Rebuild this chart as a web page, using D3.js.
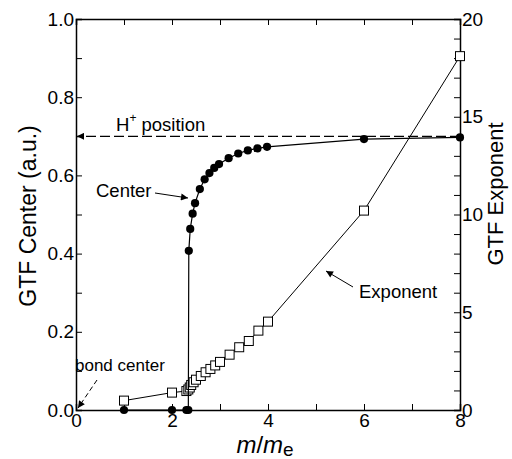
<!DOCTYPE html>
<html>
<head>
<meta charset="utf-8">
<script src="https://cdn.jsdelivr.net/npm/d3@7"></script>
<style>
  body { margin: 0; background: #fff; }
  text { font-family: "Liberation Sans", Arial, sans-serif; }
</style>
</head>
<body>
<div id="chart"></div>
<script>
// GTF center (left axis)
const centerX = [1, 2, 2.3, 2.34, 2.35, 2.38, 2.43, 2.48, 2.58, 2.68, 2.78, 2.88, 2.98, 3.18, 3.38, 3.58, 3.78, 3.98, 6, 8];
const centerY = [0, 0, 0, 0, 0.407, 0.463, 0.502, 0.529, 0.565, 0.590, 0.606, 0.619, 0.629, 0.644, 0.656, 0.664, 0.669, 0.673, 0.693, 0.697];

// GTF exponent (right axis)
const expX = [1, 2, 2.3, 2.34, 2.37, 2.4, 2.45, 2.5, 2.6, 2.7, 2.8, 2.9, 3.0, 3.2, 3.4, 3.6, 3.8, 4.0, 6, 8];
const expY = [0.48, 0.89, 0.97, 1.05, 1.15, 1.28, 1.42, 1.55, 1.74, 1.93, 2.10, 2.28, 2.46, 2.83, 3.21, 3.53, 4.06, 4.52, 10.2, 18.1];

const xTicks = [0, 2, 4, 6, 8];
const leftTicks = [0, 0.2, 0.4, 0.6, 0.8, 1.0];
const rightTicks = [0, 5, 10, 15, 20];

const W = 512, H = 459;
const m = {left: 76, right: 52, top: 19, bottom: 49};

const svg = d3.select("#chart").append("svg")
  .attr("width", W).attr("height", H);

const x = d3.scaleLinear().domain([0, 8]).range([m.left, W - m.right]);
const yL = d3.scaleLinear().domain([0, 1]).range([H - m.bottom, m.top]);
const yR = d3.scaleLinear().domain([0, 20]).range([H - m.bottom, m.top]);

const defs = svg.append("defs");
defs.append("marker").attr("id", "arr")
  .attr("viewBox", "0 0 10 10").attr("refX", 10).attr("refY", 5)
  .attr("markerWidth", 9).attr("markerHeight", 7).attr("orient", "auto")
  .attr("markerUnits", "userSpaceOnUse")
  .append("path").attr("d", "M0,0L10,5L0,10z").attr("fill", "#000");

// axes (ticks inward)
const gBottom = svg.append("g").attr("transform", `translate(0,${H - m.bottom})`)
  .call(d3.axisBottom(x).tickValues(d3.range(0, 9, 1)).tickSize(-6)
    .tickFormat(d => xTicks.includes(d) ? d : ""));
const gTop = svg.append("g").attr("transform", `translate(0,${m.top})`)
  .call(d3.axisTop(x).tickValues(d3.range(0, 9, 1)).tickSize(-6).tickFormat(""));
const gLeft = svg.append("g").attr("transform", `translate(${m.left},0)`)
  .call(d3.axisLeft(yL).tickValues(d3.range(0, 1.01, 0.1)).tickSize(-6)
    .tickFormat(d => leftTicks.some(t => Math.abs(t - d) < 1e-6) ? d3.format(".1f")(d) : ""));
const gRight = svg.append("g").attr("transform", `translate(${W - m.right},0)`)
  .call(d3.axisRight(yR).tickValues(d3.range(0, 21, 1)).tickSize(-6)
    .tickFormat(d => rightTicks.includes(d) ? d : ""));

[gBottom, gTop, gLeft, gRight].forEach(g => {
  g.select(".domain").attr("stroke", "#000").attr("stroke-width", 1.5);
  g.selectAll(".tick line").attr("stroke", "#000").attr("stroke-width", 1);
  g.selectAll(".tick text").attr("font-size", 19).attr("fill", "#000")
    .attr("font-family", "Liberation Sans, Arial, sans-serif");
});
gBottom.selectAll(".tick text").attr("y", 4).attr("dy", "0.71em");
gLeft.selectAll(".tick text").attr("x", -2);
gRight.selectAll(".tick text").attr("x", 2);

// dashed H+ position line
svg.append("line")
  .attr("x1", x(8)).attr("y1", yL(0.7)).attr("x2", x(0) + 1).attr("y2", yL(0.7))
  .attr("stroke", "#000").attr("stroke-width", 1.2).attr("stroke-dasharray", "10,4")
  .attr("marker-end", "url(#arr)");

// exponent series
const lineE = d3.line().x((d, i) => x(expX[i])).y(d => yR(d));
svg.append("path").datum(expY).attr("d", lineE)
  .attr("fill", "none").attr("stroke", "#000").attr("stroke-width", 1);
svg.append("g").selectAll("rect").data(expY).join("rect")
  .attr("x", (d, i) => x(expX[i]) - 4.5).attr("y", d => yR(d) - 4.5)
  .attr("width", 9).attr("height", 9)
  .attr("fill", "#fff").attr("stroke", "#000").attr("stroke-width", 1);

// center series
const lineC = d3.line().x((d, i) => x(centerX[i])).y(d => yL(d));
svg.append("path").datum(centerY).attr("d", lineC)
  .attr("fill", "none").attr("stroke", "#000").attr("stroke-width", 1.2);
svg.append("g").selectAll("circle").data(centerY).join("circle")
  .attr("cx", (d, i) => x(centerX[i])).attr("cy", d => yL(d))
  .attr("r", 4.1).attr("fill", "#000");

// annotations
const hp = svg.append("text").attr("x", 116).attr("y", 131).attr("font-size", 18.5);
hp.append("tspan").text("H");
hp.append("tspan").attr("dy", -9).attr("font-size", 12).text("+");
hp.append("tspan").attr("dy", 9).text(" position");

svg.append("text").attr("x", 96).attr("y", 197).attr("font-size", 18.5).text("Center");
svg.append("line").attr("x1", 155).attr("y1", 193).attr("x2", 188).attr("y2", 198)
  .attr("stroke", "#000").attr("stroke-width", 1).attr("marker-end", "url(#arr)");

svg.append("text").attr("x", 359).attr("y", 298).attr("font-size", 18.5).text("Exponent");
svg.append("line").attr("x1", 353).attr("y1", 287).attr("x2", 326).attr("y2", 271)
  .attr("stroke", "#000").attr("stroke-width", 1).attr("marker-end", "url(#arr)");

svg.append("text").attr("x", 75).attr("y", 371).attr("font-size", 17).text("bond center");
svg.append("line").attr("x1", 97).attr("y1", 380).attr("x2", 78).attr("y2", 408)
  .attr("stroke", "#000").attr("stroke-width", 1).attr("stroke-dasharray", "5,3")
  .attr("marker-end", "url(#arr)");

// axis titles
svg.append("text").attr("transform", "translate(36,216) rotate(-90)")
  .attr("text-anchor", "middle").attr("font-size", 23).text("GTF Center (a.u.)");
svg.append("text").attr("transform", "translate(503,194) rotate(-90)")
  .attr("text-anchor", "middle").attr("font-size", 22).text("GTF Exponent");

const xt = svg.append("text").attr("x", 265).attr("y", 453)
  .attr("text-anchor", "middle").attr("font-size", 24);
xt.append("tspan").attr("font-style", "italic").text("m");
xt.append("tspan").text("/");
xt.append("tspan").attr("font-style", "italic").text("m");
xt.append("tspan").attr("dy", 3).attr("font-size", 19).text("e");
</script>
</body>
</html>
